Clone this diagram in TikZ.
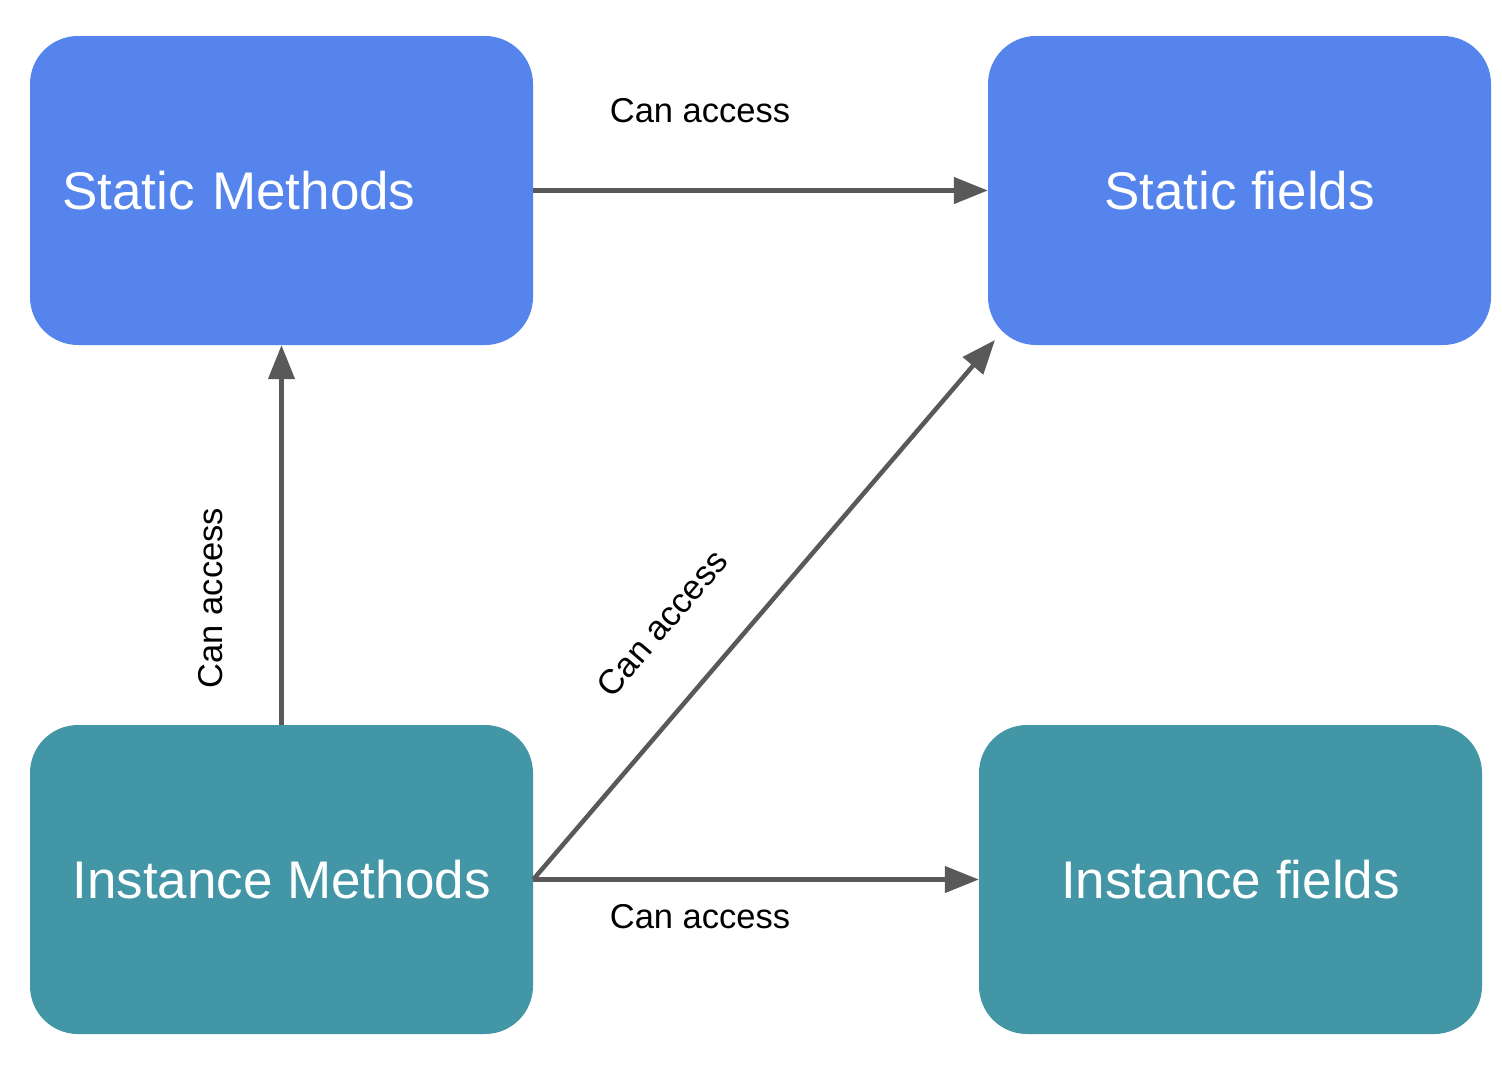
\documentclass[tikz,border=0pt]{standalone}
\usepackage{fontspec}
\setmainfont{Liberation Sans}
\usetikzlibrary{arrows.meta}
\definecolor{sblue}{HTML}{5484EC}
\definecolor{iteal}{HTML}{4396A6}
\definecolor{egray}{HTML}{595959}
\begin{document}
\begin{tikzpicture}[x=1pt,y=-1pt,
  box/.style={rounded corners=48pt, minimum width=503pt, minimum height=309pt, inner sep=0pt,
    text=white, font=\fontsize{53}{58}\selectfont},
  sbox/.style={box, fill=sblue},
  ibox/.style={box, fill=iteal},
  conn/.style={draw=egray, line width=4.5pt, -{Triangle[length=34pt,width=26pt]}},
  lbl/.style={font=\fontsize{34.5}{39}\selectfont, text=black, inner sep=0pt}]
\path[use as bounding box, fill=white] (0,0) rectangle (1502,1066);
\node[sbox, text width=439pt, align=left, inner xsep=32pt] (sm) at (281.5,190.5) {Static Methods};
\node[sbox] (sf) at (1239.5,190.5) {Static fields};
\node[ibox] (im) at (281.5,879.5) {Instance Methods};
\node[ibox] (if) at (1230.5,879.5) {Instance fields};
\coordinate (sfc) at (995,340);
\draw[conn] (sm.east) -- (sf.west);
\draw[conn] (im.north) -- (sm.south);
\draw[conn] (im.east) -- (sfc);
\draw[conn] (im.east) -- (if.west);
\node[lbl] (l1) at (700,111) {Can access};
\node[lbl, rotate=90] (l2) at (211,598) {Can access};
\node[lbl, rotate=49.5] (l3) at (662,623) {Can access};
\node[lbl] (l4) at (700,917) {Can access};
\end{tikzpicture}
\end{document}
